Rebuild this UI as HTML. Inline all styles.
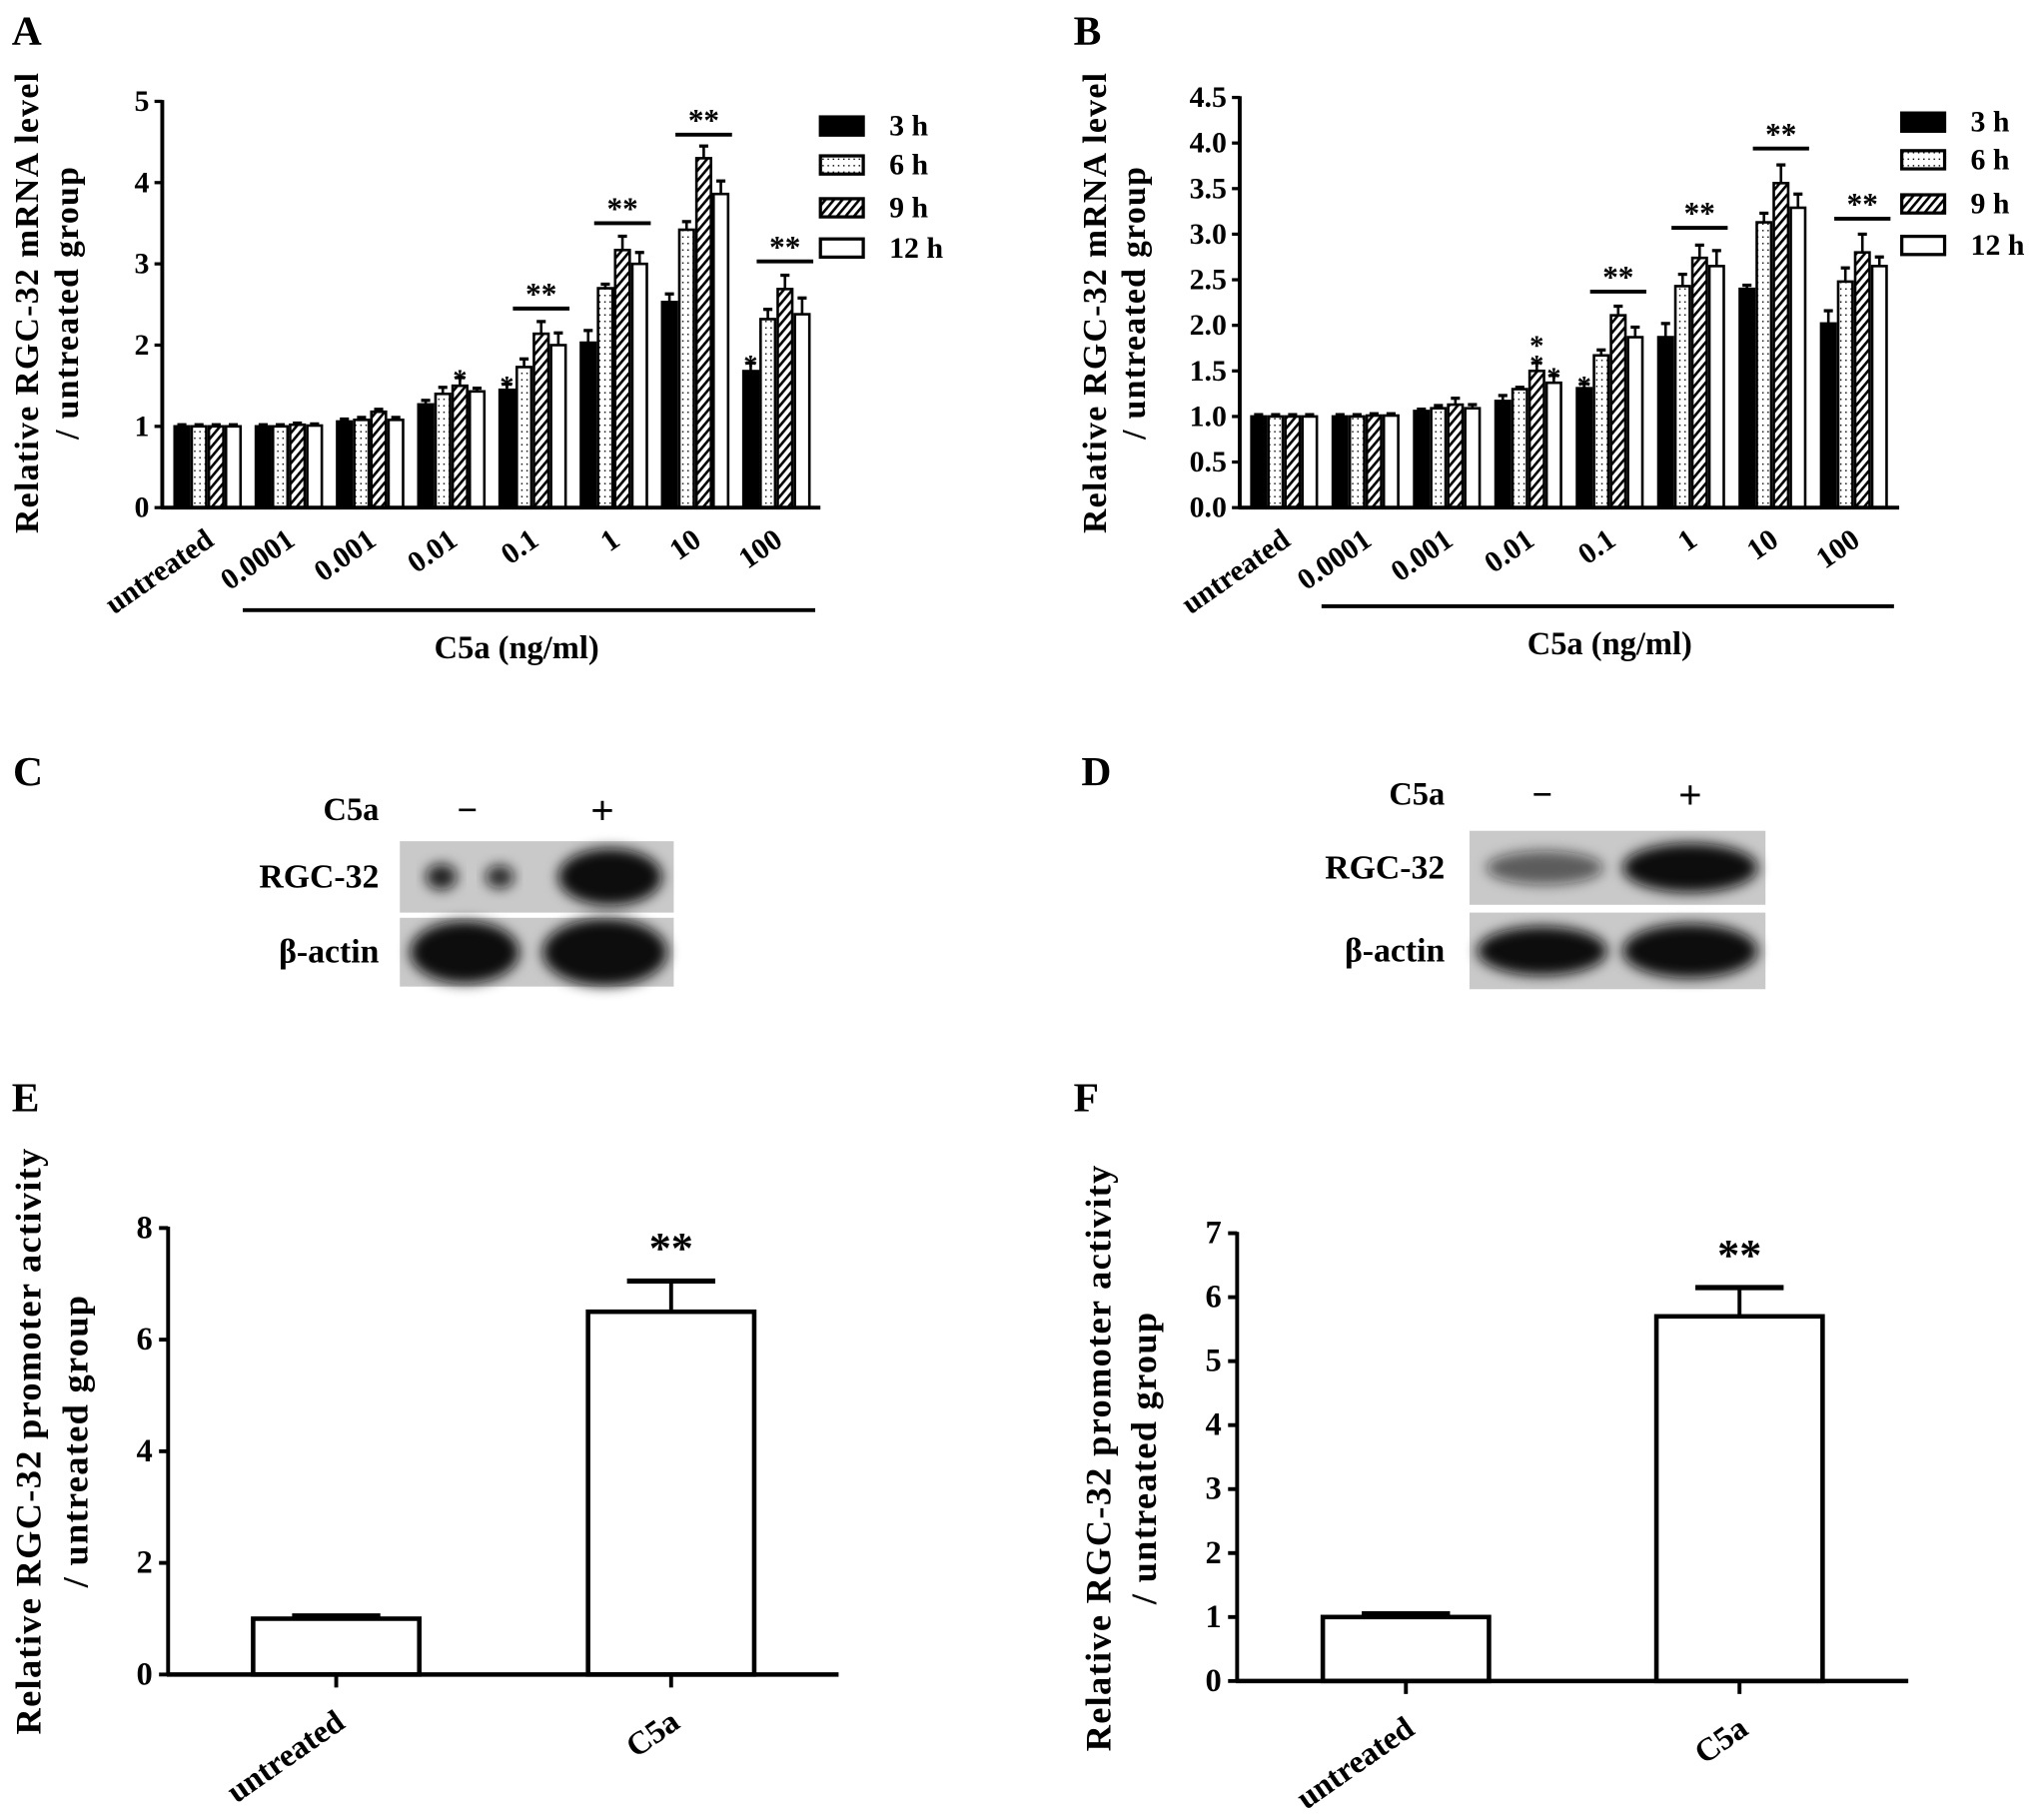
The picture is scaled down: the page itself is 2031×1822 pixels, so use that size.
<!DOCTYPE html>
<html><head><meta charset="utf-8"><style>
html,body{margin:0;padding:0;background:#fff}
svg{display:block}
text{font-family:"Liberation Serif",serif;font-weight:bold;fill:#000}
</style></head><body>
<svg id="fig" xmlns="http://www.w3.org/2000/svg" width="2031" height="1822" viewBox="0 0 1563 1402">
<defs>
<pattern id="dots" width="4" height="5" patternUnits="userSpaceOnUse"><rect width="4" height="5" fill="#fff"/><rect x="1.5" y="2" width="1.1" height="1.1" fill="#000"/></pattern>
<pattern id="hatch" width="5" height="5" patternUnits="userSpaceOnUse" patternTransform="rotate(40)"><rect width="5" height="5" fill="#fff"/><rect x="0" y="0" width="2" height="5" fill="#000"/></pattern>
<filter id="blur" x="-30%" y="-50%" width="160%" height="200%"><feGaussianBlur stdDeviation="5"/></filter>
</defs>
</svg>
<script>
// ---------- Panel A data ----------
const aCats = ["untreated","0.0001","0.001","0.01","0.1","1","10","100"];
const aMean3h  = [1.00,1.00,1.06,1.27,1.45,2.03,2.53,1.68];
const aMean6h  = [1.00,1.00,1.08,1.40,1.73,2.70,3.42,2.32];
const aMean9h  = [1.00,1.02,1.18,1.50,2.14,3.17,4.30,2.69];
const aMean12h = [1.00,1.01,1.08,1.43,2.00,3.00,3.86,2.38];
const aErr3h  = [0.02,0.02,0.03,0.05,0.07,0.15,0.10,0.10];
const aErr6h  = [0.02,0.02,0.03,0.08,0.10,0.05,0.10,0.12];
const aErr9h  = [0.02,0.02,0.03,0.10,0.15,0.17,0.15,0.17];
const aErr12h = [0.02,0.02,0.03,0.04,0.15,0.14,0.16,0.20];
const aTicks = [0,1,2,3,4,5];
const aTickLabels = ["0","1","2","3","4","5"];
const aStarGroups = [3,4,7];
const aStarSeries = [2,0,0];
const aSigGroups = [4,5,6,7];
const aSigLevels = [2.45,3.50,4.59,3.03];
// ---------- Panel B data ----------
const bMean3h  = [1.00,1.00,1.06,1.17,1.31,1.87,2.40,2.02];
const bMean6h  = [1.00,1.00,1.09,1.30,1.67,2.43,3.13,2.48];
const bMean9h  = [1.00,1.01,1.13,1.50,2.11,2.74,3.56,2.80];
const bMean12h = [1.00,1.01,1.09,1.37,1.87,2.65,3.29,2.65];
const bErr3h  = [0.02,0.02,0.02,0.06,0.05,0.15,0.04,0.14];
const bErr6h  = [0.02,0.02,0.03,0.02,0.06,0.13,0.10,0.15];
const bErr9h  = [0.02,0.02,0.07,0.09,0.10,0.14,0.20,0.20];
const bErr12h = [0.02,0.02,0.04,0.08,0.11,0.17,0.15,0.10];
const bTicks = [0,0.5,1,1.5,2,2.5,3,3.5,4,4.5];
const bTickLabels = ["0.0","0.5","1.0","1.5","2.0","2.5","3.0","3.5","4.0","4.5"];
const bStarGroups = [3,3,4];
const bStarSeries = [2,3,0];
const bStarCounts = [2,1,1];
const bSigGroups = [4,5,6,7];
const bSigLevels = [2.37,3.07,3.94,3.17];
// ---------- Panels E/F data ----------
const eCats = ["untreated","C5a"];
const eMeans = [1.0,6.5];
const eErrs = [0.05,0.55];
const eTicks = [0,2,4,6,8];
const eTickLabels = ["0","2","4","6","8"];
const fMeans = [1.0,5.7];
const fErrs = [0.05,0.45];
const fTicks = [0,1,2,3,4,5,6,7];
const fTickLabels = ["0","1","2","3","4","5","6","7"];
const legendLabels = ["3 h","6 h","9 h","12 h"];

const NS = "http://www.w3.org/2000/svg";
const svg = document.getElementById('fig');
function mk(tag, attrs, nm, parent) {
  const e = document.createElementNS(NS, tag);
  for (const k in attrs) e.setAttribute(k, attrs[k]);
  
  
  (parent || svg).appendChild(e);
  return e;
}
function txt(s, attrs, nm, parent) { const t = mk('text', attrs, nm, parent); t.textContent = s; return t; }
const fills = ["#000","url(#dots)","url(#hatch)","#fff"];

function yTitle(g, x1, x2, cy, l1, l2, fs) {
  txt(l1, {x:0,y:0,'font-size':fs,'text-anchor':'middle','letter-spacing':1,transform:`translate(${x1},${cy}) rotate(-90)`,'dominant-baseline':'central'}, 'y-axis-title', g);
  txt(l2, {x:0,y:0,'font-size':fs,'text-anchor':'middle','letter-spacing':1,transform:`translate(${x2},${cy}) rotate(-90)`,'dominant-baseline':'central'}, 'y-axis-title-line2', g);
}

function grouped(o) {
  const g = mk('g', {}, o.name);
  const y = v => o.y0 - v * (o.y0 - o.yTop) / o.vmax;
  const bx = (gi, si) => o.start + gi * o.pitch + si * o.bw;
  o.series.forEach((ser, si) => {
    ser.forEach((v, gi) => {
      const x = bx(gi, si), cx = x + o.bw / 2, top = y(v + o.errs[si][gi]);
      mk('line', {x1:cx,x2:cx,y1:y(v),y2:top,stroke:'#000','stroke-width':2}, 'error-bar', g);
      mk('line', {x1:cx-3.5,x2:cx+3.5,y1:top,y2:top,stroke:'#000','stroke-width':2.5}, 'error-cap', g);
      mk('rect', {x:x+1,y:y(v),width:o.bw-2,height:o.y0-y(v),fill:fills[si],stroke:'#000','stroke-width':2}, 'bar-'+legendLabels[si].replace(' ','')+'-'+aCats[gi], g);
    });
  });
  mk('line', {x1:o.ax,x2:o.ax,y1:o.yTop-1,y2:o.y0+1,stroke:'#000','stroke-width':3}, 'y-axis', g);
  mk('line', {x1:o.ax-1,x2:o.xEnd,y1:o.y0,y2:o.y0,stroke:'#000','stroke-width':3}, 'x-axis', g);
  o.ticks.forEach((t, i) => {
    mk('line', {x1:o.ax-6,x2:o.ax,y1:y(t),y2:y(t),stroke:'#000','stroke-width':2.5}, 'y-tick', g);
    txt(o.tickLabels[i], {x:o.ax-10,y:y(t),'font-size':23,'text-anchor':'end','dominant-baseline':'central'}, 'y-tick-label', g);
  });
  aCats.forEach((c, gi) => {
    const cx = o.start + gi * o.pitch + 2 * o.bw + 6;
    txt(c, {x:0,y:0,'font-size':23,'text-anchor':'end',transform:`translate(${cx},${o.y0+28}) rotate(-35)`}, 'x-tick-label', g);
  });
  o.starG.forEach((gi, k) => {
    const si = o.starS[k], cx = bx(gi, si) + o.bw / 2;
    const top = y(o.series[si][gi] + o.errs[si][gi]);
    const n = o.starC ? o.starC[k] : 1;
    for (let j = 0; j < n; j++)
      txt('*', {x:cx,y:top+9-j*15,'font-size':22,'text-anchor':'middle'}, 'significance-star', g);
  });
  o.sigG.forEach((gi, k) => {
    const x1 = bx(gi, 1) - 2, x2 = bx(gi, 4) + 2, yy = y(o.sigL[k]);
    mk('line', {x1:x1,x2:x2,y1:yy,y2:yy,stroke:'#000','stroke-width':3}, 'significance-line', g);
    txt('**', {x:(x1+x2)/2,y:yy-3,'font-size':24,'text-anchor':'middle'}, 'significance-stars', g);
  });
  legendLabels.forEach((l, i) => {
    const ly = o.legY[i];
    mk('rect', {x:o.legX,y:ly-7,width:33,height:14,fill:fills[i],stroke:'#000','stroke-width':2.5}, 'legend-swatch', g);
    txt(l, {x:o.legX+53,y:ly,'font-size':23,'dominant-baseline':'central'}, 'legend-entry', g);
  });
  mk('line', {x1:o.brX,x2:o.xEnd-4,y1:o.brY,y2:o.brY,stroke:'#000','stroke-width':3}, 'c5a-bracket', g);
  txt('C5a (ng/ml)', {x:o.brMid,y:o.brY+37,'font-size':25,'text-anchor':'middle'}, 'x-axis-title', g);
  yTitle(g, o.yt1, o.yt2, o.ytc, 'Relative RGC-32 mRNA level', '/ untreated group', 26);
  txt(o.letter, {x:o.letX,y:34,'font-size':32}, 'panel-label-'+o.letter, g);
}

grouped({name:'panel-a-chart', ax:125, y0:391, yTop:78, vmax:5, start:133.5, pitch:62.6, bw:13.2, xEnd:632,
  series:[aMean3h,aMean6h,aMean9h,aMean12h], errs:[aErr3h,aErr6h,aErr9h,aErr12h], ticks:aTicks, tickLabels:aTickLabels,
  starG:aStarGroups, starS:aStarSeries, sigG:aSigGroups, sigL:aSigLevels,
  legX:632, legY:[97,127,160,191], brX:187, brY:470, brMid:398, yt1:21, yt2:52, ytc:233, letter:'A', letX:9});
grouped({name:'panel-b-chart', ax:955, y0:391, yTop:75, vmax:4.5, start:963, pitch:62.7, bw:13.1, xEnd:1463,
  series:[bMean3h,bMean6h,bMean9h,bMean12h], errs:[bErr3h,bErr6h,bErr9h,bErr12h], ticks:bTicks, tickLabels:bTickLabels,
  starG:bStarGroups, starS:bStarSeries, starC:bStarCounts, sigG:bSigGroups, sigL:bSigLevels,
  legX:1465, legY:[94,123,157,189], brX:1018, brY:467, brMid:1240, yt1:844, yt2:874, ytc:233, letter:'B', letX:827});

function blot(o) {
  const g = mk('g', {}, o.name);
  txt(o.letter, {x:o.letX,y:605,'font-size':32}, 'panel-label-'+o.letter, g);
  txt('C5a', {x:o.labR,y:o.c5y,'font-size':25,'text-anchor':'end','dominant-baseline':'central'}, 'treatment-label', g);
  txt('−', {x:o.minus,y:o.c5y,'font-size':28,'text-anchor':'middle','dominant-baseline':'central'}, 'minus-sign', g);
  txt('+', {x:o.plus,y:o.c5y,'font-size':32,'text-anchor':'middle','dominant-baseline':'central'}, 'plus-sign', g);
  o.rows.forEach((r) => {
    mk('rect', {x:o.bx,y:r[0],width:o.bw,height:r[1]-r[0],fill:'#c9c9c9'}, 'blot-strip', g);
    r[2].forEach(b => {
      mk('ellipse', {cx:b[0],cy:(r[0]+r[1])/2,rx:b[1],ry:b[2],fill:'#111','fill-opacity':b[3],filter:'url(#blur)'}, 'blot-band', g);
    });
    txt(r[3], {x:o.labR,y:(r[0]+r[1])/2,'font-size':26,'text-anchor':'end','dominant-baseline':'central'}, 'blot-label', g);
  });
}
blot({name:'panel-c-blot', letter:'C', letX:10, labR:292, c5y:624, minus:360, plus:464, bx:308, bw:211,
  rows:[[648,703,[[340,12,10,0.9],[385,11,9,0.85],[470,40,22,1]],'RGC-32'],[707,760,[[358,42,24,1],[466,48,26,1]],'β-actin']]});
blot({name:'panel-d-blot', letter:'D', letX:833, labR:1113, c5y:612, minus:1188, plus:1302, bx:1132, bw:228,
  rows:[[640,697,[[1190,45,13,0.6],[1302,52,19,1]],'RGC-32'],[703,762,[[1188,50,19,1],[1302,52,21,1]],'β-actin']]});

function simple(o) {
  const g = mk('g', {}, o.name);
  const y = v => o.y0 - v * (o.y0 - o.yTop) / o.vmax;
  o.means.forEach((v, i) => {
    const x = o.bars[i], cx = x + o.bw / 2, top = y(v + o.errs[i]);
    mk('line', {x1:cx,x2:cx,y1:y(v),y2:top,stroke:'#000','stroke-width':3}, 'error-bar', g);
    mk('line', {x1:cx-34,x2:cx+34,y1:top,y2:top,stroke:'#000','stroke-width':4}, 'error-cap', g);
    mk('rect', {x:x,y:y(v),width:o.bw,height:o.y0-y(v),fill:'#fff',stroke:'#000','stroke-width':3.5}, 'bar-'+eCats[i], g);
    mk('line', {x1:cx,x2:cx,y1:o.y0,y2:o.y0+10,stroke:'#000','stroke-width':3}, 'x-tick', g);
    txt(eCats[i], {x:0,y:0,'font-size':25,'text-anchor':'end',transform:`translate(${cx+8},${o.y0+40}) rotate(-35)`}, 'x-tick-label', g);
  });
  const cx2 = o.bars[1] + o.bw / 2;
  txt('**', {x:cx2,y:y(o.means[1]+o.errs[1])-14,'font-size':34,'text-anchor':'middle'}, 'significance-stars', g);
  mk('line', {x1:o.ax,x2:o.ax,y1:o.yTop-1,y2:o.y0+1,stroke:'#000','stroke-width':3}, 'y-axis', g);
  mk('line', {x1:o.ax-1,x2:o.xEnd,y1:o.y0,y2:o.y0,stroke:'#000','stroke-width':3.5}, 'x-axis', g);
  o.ticks.forEach((t, i) => {
    mk('line', {x1:o.ax-7,x2:o.ax,y1:y(t),y2:y(t),stroke:'#000','stroke-width':3}, 'y-tick', g);
    txt(o.tickLabels[i], {x:o.ax-12,y:y(t),'font-size':25,'text-anchor':'end','dominant-baseline':'central'}, 'y-tick-label', g);
  });
  yTitle(g, o.yt1, o.yt2, o.ytc, 'Relative RGC-32 promoter activity', '/ untreated group', 28);
  txt(o.letter, {x:o.letX,y:856,'font-size':32}, 'panel-label-'+o.letter, g);
}
simple({name:'panel-e-chart', ax:129.5, y0:1290, yTop:946, vmax:8, bars:[195,453], bw:128, xEnd:646, means:eMeans, errs:eErrs,
  ticks:eTicks, tickLabels:eTickLabels, yt1:22, yt2:58, ytc:1110, letter:'E', letX:9});
simple({name:'panel-f-chart', ax:953, y0:1295, yTop:950, vmax:7, bars:[1019,1276], bw:128, xEnd:1470, means:fMeans, errs:fErrs,
  ticks:fTicks, tickLabels:fTickLabels, yt1:846, yt2:881, ytc:1123, letter:'F', letX:827});
</script>
</body></html>
